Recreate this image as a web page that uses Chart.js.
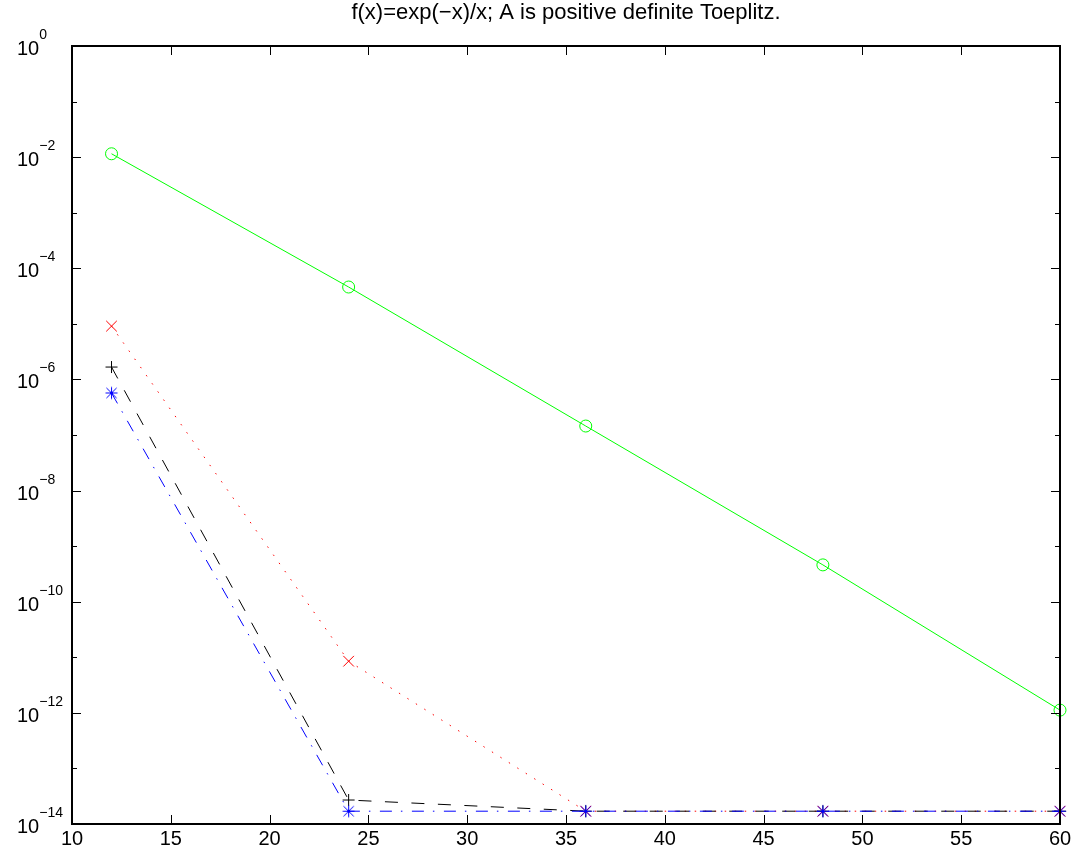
<!DOCTYPE html>
<html>
<head>
<meta charset="utf-8">
<script src="https://cdn.jsdelivr.net/npm/chart.js@4/dist/chart.umd.min.js"></script>
<style>
  html, body { margin: 0; padding: 0; background: #fff; }
  #wrap { width: 1077px; height: 856px; }
</style>
</head>
<body>
<div id="wrap"><canvas id="errChart" width="1077" height="856"></canvas></div>
<script>
// ── Datos ────────────────────────────────────────────────────
const TITLE = 'f(x)=exp(\u2212x)/x; A is positive definite Toeplitz.';
const nValues  = [12, 24, 36, 48, 60];
const errGreen = [1.15e-2, 4.6e-5, 1.45e-7, 4.6e-10, 1.12e-12];
const errRed   = [9.1e-6, 8.5e-12, 1.7e-14, 1.7e-14, 1.7e-14];
const errBlack = [1.67e-6, 2.7e-14, 1.7e-14, 1.7e-14, 1.7e-14];
const errBlue  = [5.7e-7, 1.7e-14, 1.7e-14, 1.7e-14, 1.7e-14];
const xTicks   = [10, 15, 20, 25, 30, 35, 40, 45, 50, 55, 60];
const yExps    = [0, -1, -2, -3, -4, -5, -6, -7, -8, -9, -10, -11, -12, -13, -14];
const yLabelExps = [0, -2, -4, -6, -8, -10, -12, -14];

const FONT = '"Liberation Sans", Arial, Helvetica, sans-serif';

const pts = arr => arr.map((v, i) => ({ x: nValues[i], y: v }));

// asterisco tipo MATLAB (brazos iguales)
function makeAsterisk(color, r) {
  const c = document.createElement('canvas');
  const s = Math.ceil(r * 2 + 3);
  c.width = s; c.height = s;
  const g = c.getContext('2d');
  const m = s / 2, d = r * 0.85;
  g.strokeStyle = color; g.lineWidth = 1;
  g.beginPath();
  g.moveTo(m - r, m); g.lineTo(m + r, m);
  g.moveTo(m, m - r); g.lineTo(m, m + r);
  g.moveTo(m - d, m - d); g.lineTo(m + d, m + d);
  g.moveTo(m - d, m + d); g.lineTo(m + d, m - d);
  g.stroke();
  return c;
}

// ── Marco, marcas y etiquetas tipo MATLAB ────────────────────
const matlabAxes = {
  id: 'matlabAxes',
  afterDraw(chart) {
    const { ctx, chartArea: a, scales: { x, y } } = chart;
    ctx.save();
    ctx.strokeStyle = '#000';
    ctx.lineWidth = 1;
    ctx.beginPath();
    xTicks.forEach(t => {
      const px = Math.round(x.getPixelForValue(t)) + 0.5;
      ctx.moveTo(px, a.bottom); ctx.lineTo(px, a.bottom - 9);
      ctx.moveTo(px, a.top);    ctx.lineTo(px, a.top + 9);
    });
    yExps.forEach(e => {
      const py = Math.round(y.getPixelForValue(Math.pow(10, e))) + 0.5;
      const len = (e % 2 === 0) ? 9 : 5;
      ctx.moveTo(a.left, py);  ctx.lineTo(a.left + len, py);
      ctx.moveTo(a.right, py); ctx.lineTo(a.right - len, py);
    });
    ctx.stroke();

    ctx.lineWidth = 2;
    ctx.strokeRect(a.left, a.top, a.right - a.left, a.bottom - a.top);

    // etiquetas del eje y: 10^e
    ctx.fillStyle = '#000';
    ctx.textAlign = 'left';
    ctx.textBaseline = 'alphabetic';
    yLabelExps.forEach(e => {
      const py = y.getPixelForValue(Math.pow(10, e));
      ctx.font = '20px ' + FONT;
      ctx.fillText('10', 17, py + 9);
      const w = ctx.measureText('10').width;
      ctx.font = '14px ' + FONT;
      ctx.fillText(String(e).replace('-', '\u2212'), 17 + w, py - 7);
    });

    // título
    ctx.font = '22px ' + FONT;
    ctx.textAlign = 'center';
    ctx.fillText(TITLE, (a.left + a.right) / 2, 19);
    ctx.restore();
  }
};

new Chart(document.getElementById('errChart'), {
  type: 'line',
  data: {
    datasets: [
      { label: 'blue', data: pts(errBlue), borderColor: '#0000ff', borderDash: [12, 9, 1.5, 9.5],
        pointStyle: makeAsterisk('#0000ff', 6), pointRadius: 6, order: 1 },
      { label: 'black', data: pts(errBlack), borderColor: '#000000', borderDash: [13, 13.5],
        pointStyle: 'cross', pointRadius: 6, order: 2 },
      { label: 'red', data: pts(errRed), borderColor: '#ff0000', borderDash: [1.5, 8.5],
        pointStyle: 'crossRot', pointRadius: 7.5, order: 3 },
      { label: 'green', data: pts(errGreen), borderColor: '#00ff00',
        pointStyle: 'circle', pointRadius: 6, order: 4 },
    ].map(d => Object.assign({
      borderWidth: 1, pointBorderWidth: 1, pointBorderColor: d.borderColor,
      pointBackgroundColor: 'rgba(0,0,0,0)', tension: 0, clip: false, fill: false,
    }, d)),
  },
  options: {
    responsive: false, animation: false, devicePixelRatio: 1,
    layout: { padding: { top: 46, right: 17, left: 0, bottom: 0 } },
    plugins: { legend: { display: false }, tooltip: { enabled: false }, title: { display: false } },
    scales: {
      x: {
        type: 'linear', min: 10, max: 60,
        afterFit: s => { s.height = 32; },
        afterBuildTicks: s => { s.ticks = xTicks.map(v => ({ value: v })); },
        grid: { display: false }, border: { display: false },
        ticks: { font: { size: 20, family: FONT }, color: '#000', padding: -5, maxRotation: 0, autoSkip: false },
      },
      y: {
        type: 'logarithmic', min: 1e-14, max: 1,
        afterFit: s => { s.width = 72; },
        afterBuildTicks: s => { s.ticks = yExps.map(e => ({ value: Math.pow(10, e) })); },
        grid: { display: false }, border: { display: false },
        ticks: { display: false },
      },
    },
  },
  plugins: [matlabAxes],
});
</script>
</body>
</html>
